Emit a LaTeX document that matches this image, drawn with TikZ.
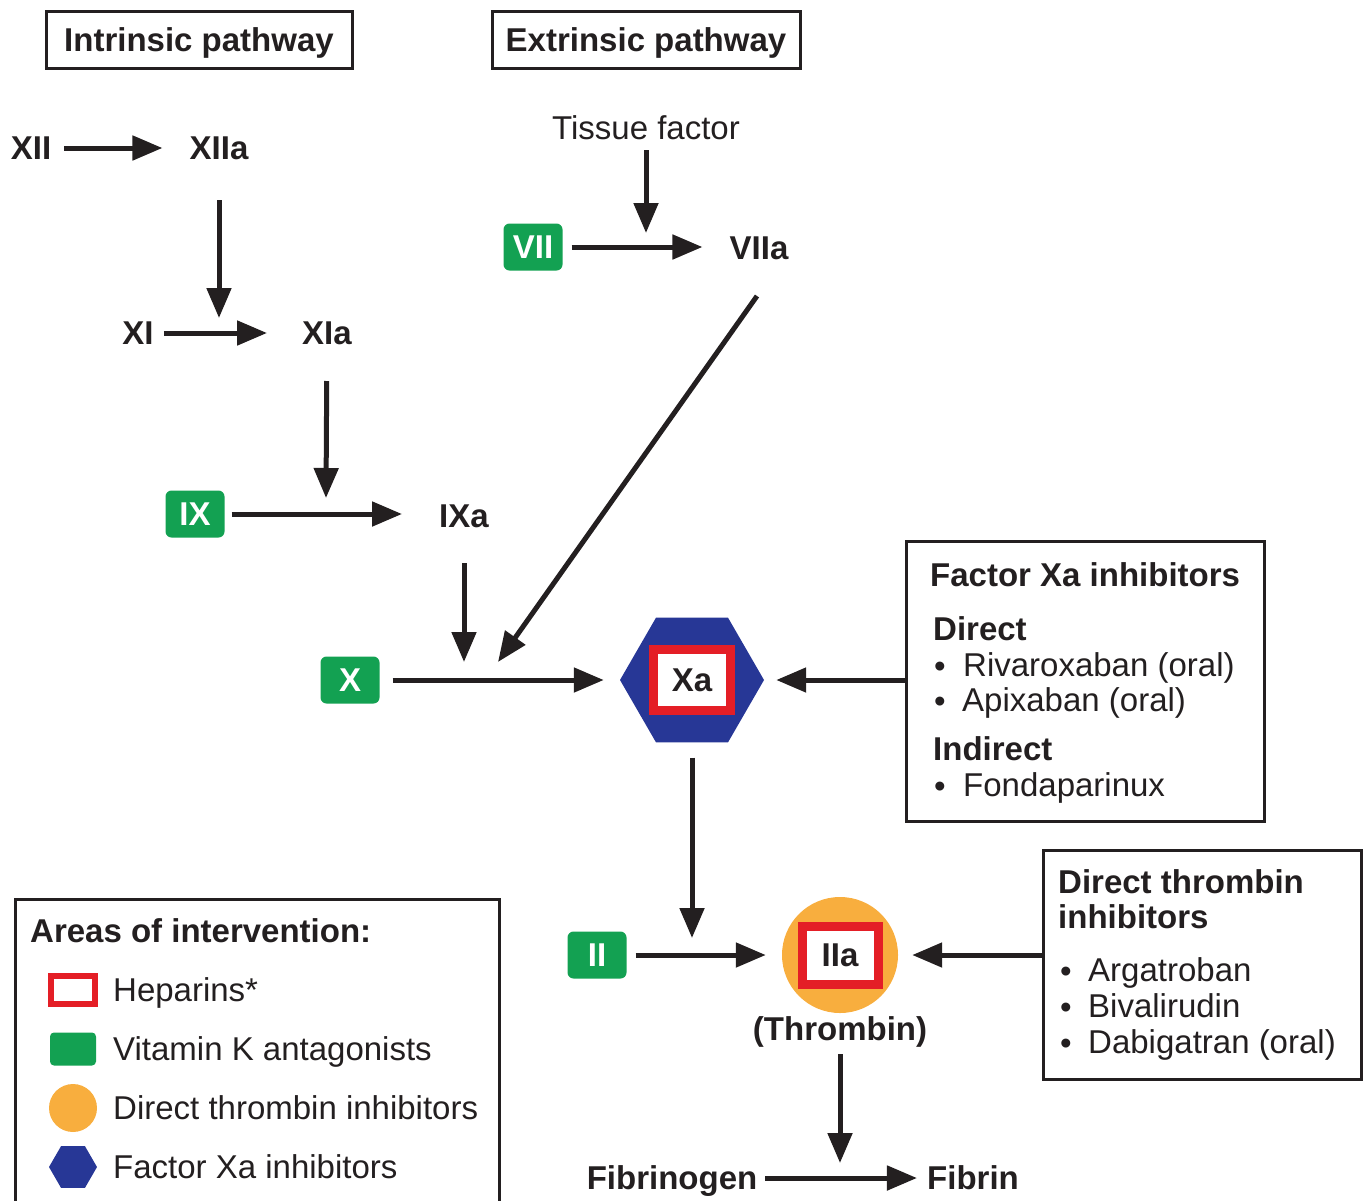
\documentclass[tikz,border=0pt]{standalone}
\usepackage{fontspec}
\setmainfont{Liberation Sans}
\usetikzlibrary{shapes.geometric,arrows.meta}
\definecolor{ink}{RGB}{35,31,32}
\definecolor{vkgreen}{RGB}{19,161,82}
\definecolor{fxblue}{RGB}{39,55,150}
\definecolor{hepred}{RGB}{228,30,38}
\definecolor{dtiorange}{RGB}{248,174,62}
\begin{document}
\begin{tikzpicture}[x=1pt,y=-1pt,
  txt/.style={font=\fontsize{33}{38}\selectfont, text=ink, inner sep=0pt,
    text height=23.6pt, text depth=0pt},
  btxt/.style={txt, font=\fontsize{33}{38}\selectfont\bfseries},
  pbox/.style={btxt, draw=ink, line width=3pt, minimum height=57pt},
  infobox/.style={draw=ink, line width=3pt, inner sep=0pt},
  vk/.style={btxt, text=white, fill=vkgreen, rounded corners=6pt,
    minimum width=59pt, minimum height=47pt},
  hep/.style={btxt, draw=hepred, fill=white, line width=9pt},
  hexa/.style={regular polygon, regular polygon sides=6, fill=fxblue, inner sep=0pt},
  arr/.style={draw=ink, line width=5pt, -{Triangle[length=30pt,width=24pt]}}
]
\useasboundingbox (0,0) rectangle (1367,1200);
\clip (0,0) rectangle (1367,1200);

% pathway headings
\node[pbox, minimum width=306pt] (intr) at (199,39.5) {Intrinsic pathway};
\node[pbox, minimum width=308pt] (extr) at (646,39.5) {Extrinsic pathway};

% intrinsic cascade
\node[btxt] (XII) at (31,148) {XII};
\node[btxt] (XIIa) at (219,148) {XIIa};
\node[btxt] (XI) at (138,333) {XI};
\node[btxt] (XIa) at (327,333) {XIa};
\node[vk] (IX) at (195,514) {IX};
\node[btxt] (IXa) at (464,516) {IXa};
\coordinate (j1) at (219,318);
\coordinate (j2) at (326,498);
\coordinate (j3) at (464,662);

% extrinsic cascade
\node[txt] (tf) at (646,128) {Tissue factor};
\node[vk] (VII) at (533,247) {VII};
\node[btxt] (VIIa) at (759,248) {VIIa};
\coordinate (j4) at (646,233);
\coordinate (j5) at (498,662);

% common pathway
\node[vk] (X) at (350,680) {X};
\node[hexa, minimum size=144pt] (Xahex) at (692,680) {};
\node[hep, minimum width=77pt, minimum height=61pt] (Xa) at (692,680) {Xa};
\coordinate (j6) at (692,938);
\node[vk] (II) at (597,955) {II};
\node[circle, fill=dtiorange, minimum size=116pt, inner sep=0pt] (IIacirc) at (840,955) {};
\node[hep, minimum width=76pt, minimum height=58pt] (IIa) at (840,955) {IIa};
\node[btxt] (thr) at (840,1029) {(Thrombin)};
\coordinate (j7) at (840,1163);
\node[btxt] (fbg) at (672,1178) {Fibrinogen};
\node[btxt] (fbn) at (973,1178) {Fibrin};

% factor Xa inhibitor box
\node[infobox, minimum width=358pt, minimum height=280pt] (fxa) at (1085,681) {};
\node[btxt, anchor=west] (fxaT) at (930,575) {Factor Xa inhibitors};
\node[btxt, anchor=west] (fxaD) at (933,629) {Direct};
\node[txt, anchor=west] (b1) at (934,666) {\textbullet};
\node[txt, anchor=west] (fxa1) at (963,665) {Rivaroxaban (oral)};
\node[txt, anchor=west] (b2) at (934,701) {\textbullet};
\node[txt, anchor=west] (fxa2) at (962,700) {Apixaban (oral)};
\node[btxt, anchor=west] (fxaI) at (933,749) {Indirect};
\node[txt, anchor=west] (b3) at (934,786) {\textbullet};
\node[txt, anchor=west] (fxa3) at (963,785) {Fondaparinux};

% direct thrombin inhibitor box
\node[infobox, minimum width=318pt, minimum height=229pt] (dti) at (1202,964.5) {};
\node[btxt, anchor=west] (dtiT1) at (1058,882) {Direct thrombin};
\node[btxt, anchor=west] (dtiT2) at (1058,917) {inhibitors};
\node[txt, anchor=west] (b4) at (1060,971) {\textbullet};
\node[txt, anchor=west] (dti1) at (1088,970) {Argatroban};
\node[txt, anchor=west] (b5) at (1060,1007) {\textbullet};
\node[txt, anchor=west] (dti2) at (1088,1006) {Bivalirudin};
\node[txt, anchor=west] (b6) at (1060,1043) {\textbullet};
\node[txt, anchor=west] (dti3) at (1088,1042) {Dabigatran (oral)};

% legend
\node[infobox, minimum width=484pt, minimum height=316pt] (lg) at (257,1057) {};
\node[btxt, anchor=west] (lgT) at (30,931) {Areas of intervention:};
\node[draw=hepred, line width=6pt, minimum width=44pt, minimum height=28pt, inner sep=0pt] (lgHep) at (73,990) {};
\node[fill=vkgreen, rounded corners=4pt, minimum width=46pt, minimum height=33pt, inner sep=0pt] (lgVk) at (73,1049) {};
\node[circle, fill=dtiorange, minimum size=48pt, inner sep=0pt] (lgDti) at (73,1108) {};
\node[hexa, minimum size=48pt] (lgFx) at (73,1167) {};
\node[txt, anchor=west] (lgHepT) at (113,990) {Heparins*};
\node[txt, anchor=west] (lgVkT) at (113,1049) {Vitamin K antagonists};
\node[txt, anchor=west] (lgDtiT) at (113,1108) {Direct thrombin inhibitors};
\node[txt, anchor=west] (lgFxT) at (113,1167) {Factor Xa inhibitors};

% connectors
\draw[arr, shorten <=13pt, shorten >=27pt] (XII) -- (XIIa);
\draw[arr, shorten <=40pt] (XIIa) -- (j1);
\draw[arr, shorten <=10pt, shorten >=35pt] (XI) -- (XIa);
\draw[arr, shorten <=36pt] (XIa) -- (j2);
\draw[arr, shorten <=7pt, shorten >=37pt] (IX) -- (IX -| IXa.west);
\draw[arr, shorten <=35pt] (IXa) -- (j3);
\draw[arr, shorten <=10pt] (tf) -- (j4);
\draw[arr, shorten <=9pt, shorten >=27pt] (VII) -- (VII -| VIIa.west);
\draw[arr] ([shift={(-2,36)}]VIIa.south) -- (j5);
\draw[arr, shorten <=13pt, shorten >=16pt] (X) -- (Xahex);
\draw[arr, shorten >=12pt] (fxa.west |- Xahex) -- (Xahex);
\draw[arr, shorten <=15pt] (Xahex) -- (j6);
\draw[arr, shorten <=9pt, shorten >=16pt] (II) -- (IIacirc);
\draw[arr, shorten >=14pt] (dti.west |- IIacirc) -- (IIacirc);
\draw[arr, shorten <=13pt] (thr) -- (j7);
\draw[arr, shorten <=8pt, shorten >=10pt] (fbg) -- (fbn);
\end{tikzpicture}
\end{document}
